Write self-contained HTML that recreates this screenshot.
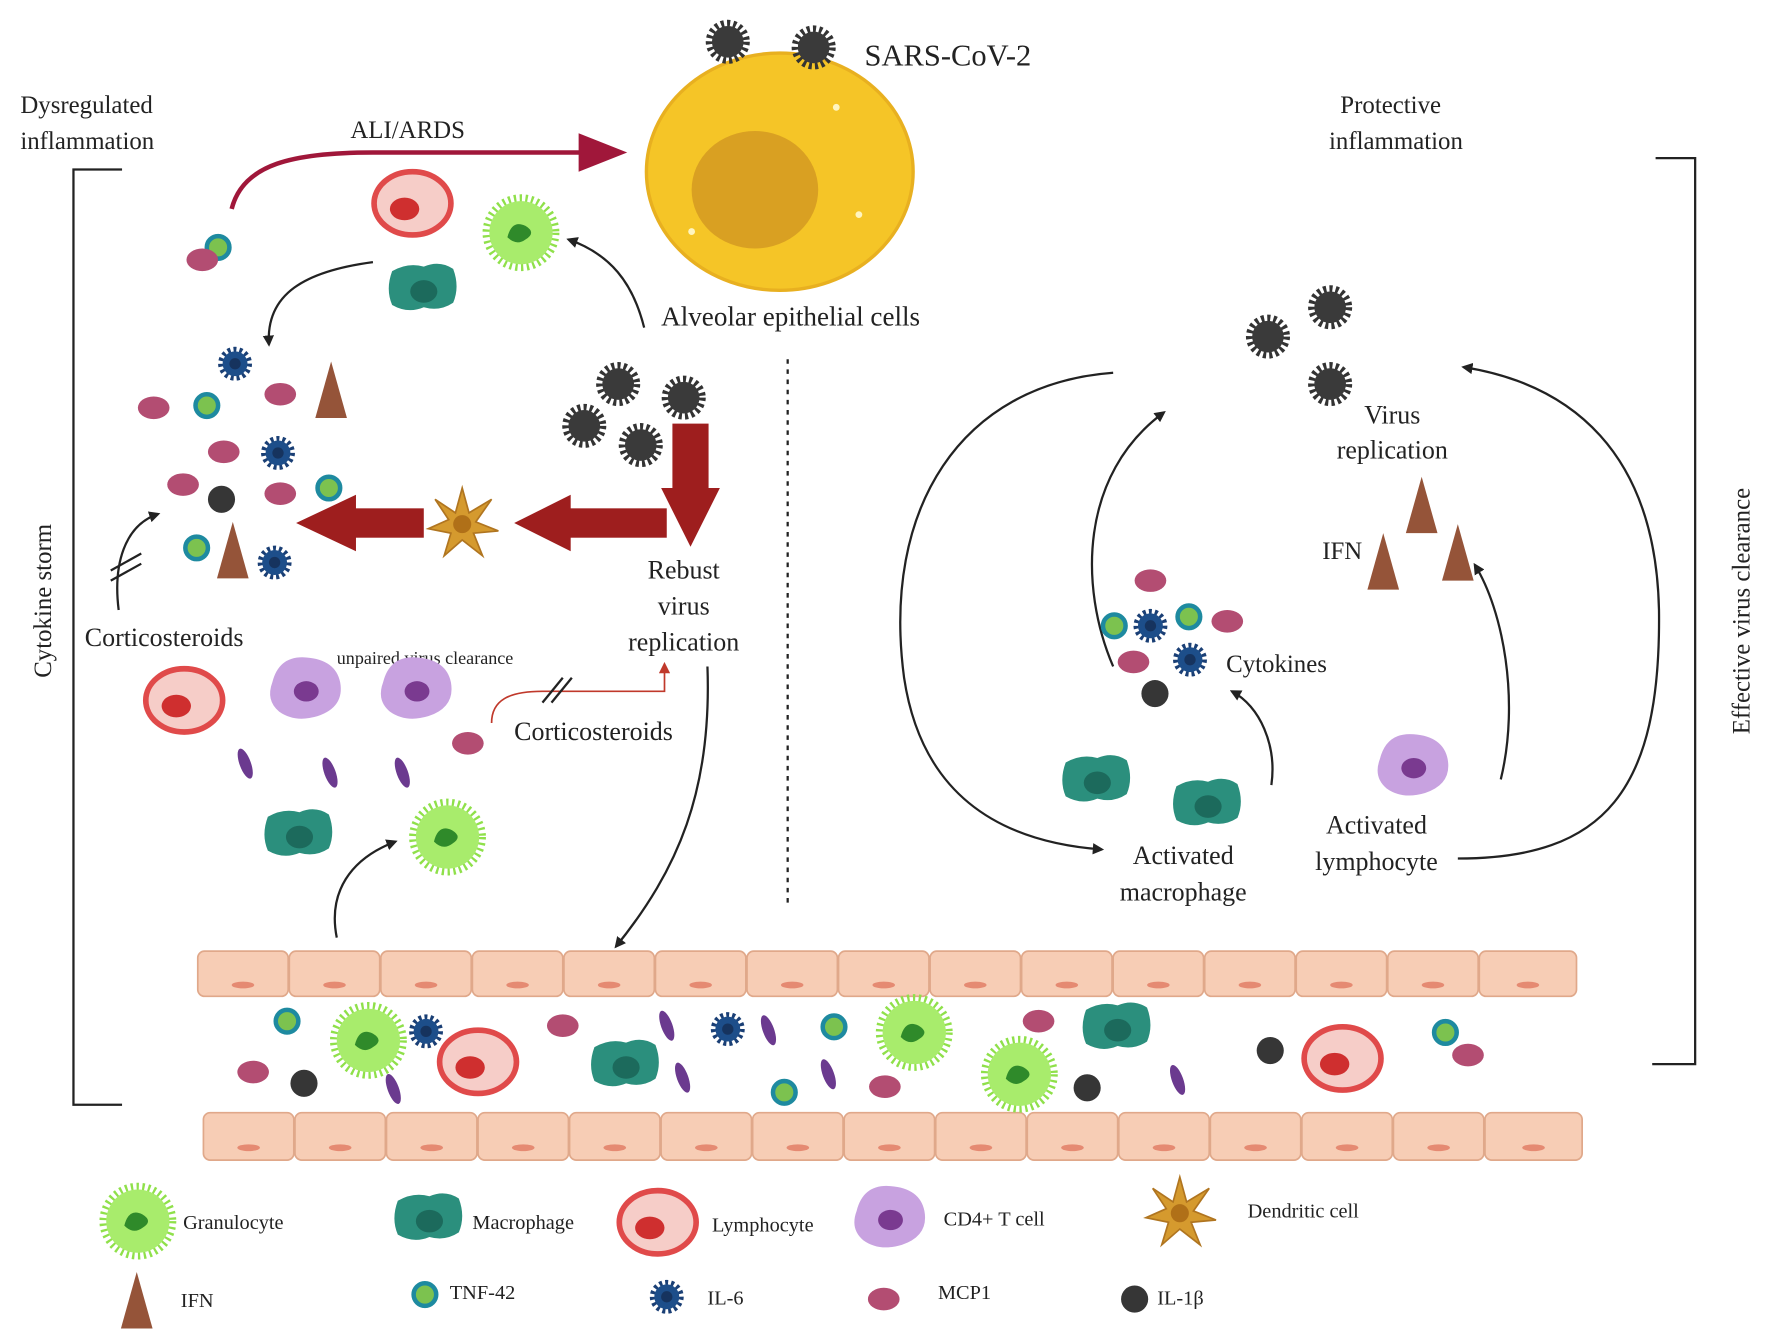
<!DOCTYPE html>
<html><head><meta charset="utf-8"><style>
html,body{margin:0;padding:0;background:#fff}
svg{display:block}
text{font-family:"Liberation Serif",serif;fill:#222}
</style></head><body>
<svg width="1772" height="1342" viewBox="0 0 1568 1188" preserveAspectRatio="none" xmlns="http://www.w3.org/2000/svg">
<defs>
<symbol id="vir" viewBox="-22 -22 44 44" overflow="visible"><circle r="15" fill="none" stroke="#333" stroke-width="9" stroke-dasharray="2.5 2.5"/><circle r="14" fill="#3a3a3a"/></symbol>
<symbol id="il6" viewBox="-16 -16 32 32" overflow="visible"><circle r="12" fill="none" stroke="#1a3f75" stroke-width="6" stroke-dasharray="2.5 2.5"/><circle r="11" fill="#1d4e8a"/><circle r="5" fill="#16335e"/></symbol>
<symbol id="tnf" viewBox="-14 -14 28 28" overflow="visible"><circle r="10" fill="#7cc24f" stroke="#1e8aa0" stroke-width="4"/></symbol>
<symbol id="mcp" viewBox="-16 -12 32 24" overflow="visible"><ellipse rx="14" ry="10" fill="#b34d72"/></symbol>
<symbol id="il1" viewBox="-14 -14 28 28" overflow="visible"><circle r="12" fill="#363636"/></symbol>
<symbol id="ifn" viewBox="-16 -28 32 56" overflow="visible"><polygon points="0,-26 14,24 -14,24" fill="#955439"/></symbol>
<symbol id="rod" viewBox="-6 -16 12 32" overflow="visible"><ellipse rx="5" ry="14" fill="#6b3a8f" transform="rotate(-20)"/></symbol>
<symbol id="gran" viewBox="-36 -36 72 72" overflow="visible"><circle r="30" fill="none" stroke="#8fe04a" stroke-width="8" stroke-dasharray="2 3"/><circle r="28" fill="#a8ec6c"/><path d="M-12,4 q4,-16 16,-10 q10,6 0,12 q-8,6 -16,-2z" fill="#2f8a2a"/></symbol>
<symbol id="mac" viewBox="-34 -28 68 56" overflow="visible"><path d="M-28,-18 q14,-8 28,-4 q14,-6 26,2 q6,16 0,30 q-12,8 -26,4 q-14,6 -28,-2 q-6,-14 0,-30z" fill="#2b8f7d"/><ellipse cx="0" cy="0" rx="12" ry="10" fill="#1c6a5c"/></symbol>
<symbol id="lym" viewBox="-38 -32 76 64" overflow="visible"><ellipse rx="34" ry="28" fill="#f6cdc8" stroke="#e04a4a" stroke-width="5"/><ellipse cx="-7" cy="5" rx="13" ry="10" fill="#cf2f2f"/></symbol>
<symbol id="cd4" viewBox="-36 -32 72 64" overflow="visible"><path d="M-30,-8 q6,-24 30,-22 q26,2 30,22 q4,22 -20,30 q-20,6 -34,-4 q-12,-10 -6,-26z" fill="#c8a2e0"/><ellipse cx="0" cy="0" rx="11" ry="9" fill="#7a3a90"/></symbol>
<symbol id="dc" viewBox="-34 -34 68 68" overflow="visible"><polygon points="0,-32 6,-10 26,-22 12,-2 32,6 10,8 18,28 0,14 -16,28 -10,8 -30,4 -12,-4 -24,-22 -6,-10" fill="#d59a2e" stroke="#b07520" stroke-width="1.5"/><circle r="8" fill="#b07018"/></symbol>
<marker id="ah" markerWidth="10" markerHeight="10" refX="8" refY="5" orient="auto" markerUnits="userSpaceOnUse" viewBox="0 0 10 10"><path d="M0,0 L10,5 L0,10 z" fill="#222"/></marker>
<marker id="ahr" markerWidth="10" markerHeight="10" refX="8" refY="5" orient="auto" markerUnits="userSpaceOnUse" viewBox="0 0 10 10"><path d="M0,0 L10,5 L0,10 z" fill="#c0392b"/></marker>
</defs>

<!-- brackets -->
<path d="M108,150 H65 V978 H108" fill="none" stroke="#222" stroke-width="2"/>
<path d="M1465,140 H1500 V942 H1462" fill="none" stroke="#222" stroke-width="2"/>

<!-- texts -->
<text x="765" y="58" font-size="27">SARS-CoV-2</text>
<text x="18" y="100" font-size="22">Dysregulated</text>
<text x="18" y="132" font-size="22">inflammation</text>
<text x="310" y="122" font-size="22">ALI/ARDS</text>
<text x="1186" y="100" font-size="22">Protective</text>
<text x="1176" y="132" font-size="22">inflammation</text>
<text x="585" y="288" font-size="24">Alveolar epithelial cells</text>
<text transform="translate(45,600) rotate(-90)" font-size="22">Cytokine storm</text>
<text transform="translate(1548,650) rotate(-90)" font-size="22">Effective virus clearance</text>
<text x="605" y="512" font-size="23" text-anchor="middle">Rebust</text>
<text x="605" y="544" font-size="23" text-anchor="middle">virus</text>
<text x="605" y="576" font-size="23" text-anchor="middle">replication</text>
<text x="75" y="572" font-size="23">Corticosteroids</text>
<text x="298" y="588" font-size="16">unpaired virus clearance</text>
<text x="455" y="655" font-size="23">Corticosteroids</text>
<text x="1232" y="375" font-size="23" text-anchor="middle">Virus</text>
<text x="1232" y="406" font-size="23" text-anchor="middle">replication</text>
<text x="1170" y="495" font-size="22">IFN</text>
<text x="1085" y="595" font-size="22">Cytokines</text>
<text x="1047" y="765" font-size="23" text-anchor="middle">Activated</text>
<text x="1047" y="797" font-size="23" text-anchor="middle">macrophage</text>
<text x="1218" y="738" font-size="23" text-anchor="middle">Activated</text>
<text x="1218" y="770" font-size="23" text-anchor="middle">lymphocyte</text>

<!-- alveolar cell -->
<ellipse cx="690" cy="152" rx="118" ry="105" fill="#f5c527" stroke="#e8b020" stroke-width="3"/>
<ellipse cx="668" cy="168" rx="56" ry="52" fill="#d9a022"/>
<circle cx="740" cy="95" r="3" fill="#fff5c0"/><circle cx="760" cy="190" r="3" fill="#fff5c0"/><circle cx="612" cy="205" r="3" fill="#fff5c0"/>

<!-- viruses -->
<use href="#vir" x="622" y="15" width="44" height="44"/>
<use href="#vir" x="698" y="20" width="44" height="44"/>
<use href="#vir" x="525" y="318" width="44" height="44"/>
<use href="#vir" x="583" y="330" width="44" height="44"/>
<use href="#vir" x="495" y="355" width="44" height="44"/>
<use href="#vir" x="545" y="372" width="44" height="44"/>
<use href="#vir" x="1155" y="250" width="44" height="44"/>
<use href="#vir" x="1100" y="276" width="44" height="44"/>
<use href="#vir" x="1155" y="318" width="44" height="44"/>

<!-- dotted line -->
<line x1="697" y1="318" x2="697" y2="800" stroke="#222" stroke-width="2" stroke-dasharray="4 5"/>

<!-- ALI arrow -->
<path d="M205,185 C215,145 260,135 330,135 L515,135" fill="none" stroke="#a0173a" stroke-width="4"/>
<polygon points="512,118 555,135 512,152" fill="#a0173a"/>

<!-- upper-left cluster -->
<use href="#lym" x="327" y="148" width="76" height="64"/>
<use href="#gran" x="425" y="170" width="72" height="72"/>
<use href="#mac" x="341" y="230" width="68" height="56"/>
<use href="#tnf" x="179" y="205" width="28" height="28"/>
<use href="#mcp" x="163" y="218" width="32" height="24"/>
<path d="M330,232 C270,240 235,260 238,305" fill="none" stroke="#222" stroke-width="2" marker-end="url(#ah)"/>
<path d="M570,290 C560,250 540,225 503,212" fill="none" stroke="#222" stroke-width="2" marker-end="url(#ah)"/>

<!-- cytokine storm cluster -->
<use href="#il6" x="192" y="306" width="32" height="32"/>
<use href="#mcp" x="120" y="349" width="32" height="24"/>
<use href="#tnf" x="169" y="345" width="28" height="28"/>
<use href="#mcp" x="232" y="337" width="32" height="24"/>
<use href="#ifn" x="277" y="318" width="32" height="56"/>
<use href="#mcp" x="182" y="388" width="32" height="24"/>
<use href="#il6" x="230" y="385" width="32" height="32"/>
<use href="#mcp" x="146" y="417" width="32" height="24"/>
<use href="#il1" x="182" y="428" width="28" height="28"/>
<use href="#mcp" x="232" y="425" width="32" height="24"/>
<use href="#tnf" x="277" y="418" width="28" height="28"/>
<use href="#tnf" x="160" y="471" width="28" height="28"/>
<use href="#ifn" x="190" y="460" width="32" height="56"/>
<use href="#il6" x="227" y="482" width="32" height="32"/>

<!-- red arrows -->
<rect x="595" y="375" width="32" height="60" fill="#9e1e1e"/>
<polygon points="585,432 637,432 611,484" fill="#9e1e1e"/>
<rect x="500" y="450" width="90" height="26" fill="#9e1e1e"/>
<polygon points="505,438 505,488 455,463" fill="#9e1e1e"/>
<use href="#dc" x="375" y="430" width="68" height="68"/>
<rect x="310" y="450" width="65" height="26" fill="#9e1e1e"/>
<polygon points="315,438 315,488 262,463" fill="#9e1e1e"/>

<!-- corticosteroid arrow -->
<path d="M105,540 C100,500 110,465 140,455" fill="none" stroke="#222" stroke-width="2" marker-end="url(#ah)"/>
<line x1="98" y1="505" x2="125" y2="490" stroke="#222" stroke-width="2"/>
<line x1="98" y1="514" x2="125" y2="499" stroke="#222" stroke-width="2"/>

<!-- lower left cells -->
<use href="#lym" x="125" y="588" width="76" height="64"/>
<use href="#cd4" x="235" y="580" width="72" height="64"/>
<use href="#cd4" x="333" y="580" width="72" height="64"/>
<use href="#mcp" x="398" y="646" width="32" height="24"/>
<use href="#rod" x="211" y="660" width="12" height="32"/>
<use href="#rod" x="286" y="668" width="12" height="32"/>
<use href="#rod" x="350" y="668" width="12" height="32"/>
<path d="M435,640 C435,620 450,612 480,612 L588,612 L588,588" fill="none" stroke="#c0392b" stroke-width="1.5" marker-end="url(#ahr)"/>
<line x1="480" y1="622" x2="498" y2="600" stroke="#222" stroke-width="2"/>
<line x1="488" y1="622" x2="506" y2="600" stroke="#222" stroke-width="2"/>
<use href="#mac" x="231" y="713" width="68" height="56"/>
<use href="#gran" x="360" y="705" width="72" height="72"/>
<path d="M298,830 C290,790 310,760 350,745" fill="none" stroke="#222" stroke-width="2" marker-end="url(#ah)"/>
<path d="M626,590 C630,700 600,770 545,838" fill="none" stroke="#222" stroke-width="2" marker-end="url(#ah)"/>

<!-- right side -->
<path d="M985,330 C850,340 780,450 800,600 C815,700 880,745 975,752" fill="none" stroke="#222" stroke-width="2" marker-end="url(#ah)"/>
<path d="M985,590 C955,520 955,420 1030,365" fill="none" stroke="#222" stroke-width="2" marker-end="url(#ah)"/>
<path d="M1290,760 C1420,760 1470,700 1468,540 C1465,400 1390,340 1295,325" fill="none" stroke="#222" stroke-width="2" marker-end="url(#ah)"/>
<path d="M1125,695 C1130,660 1115,625 1090,612" fill="none" stroke="#222" stroke-width="2" marker-end="url(#ah)"/>
<path d="M1328,690 C1345,620 1330,540 1305,500" fill="none" stroke="#222" stroke-width="2" marker-end="url(#ah)"/>
<use href="#ifn" x="1242" y="420" width="32" height="56"/>
<use href="#ifn" x="1208" y="470" width="32" height="56"/>
<use href="#ifn" x="1274" y="462" width="32" height="56"/>
<use href="#mcp" x="1002" y="502" width="32" height="24"/>
<use href="#tnf" x="972" y="540" width="28" height="28"/>
<use href="#il6" x="1002" y="538" width="32" height="32"/>
<use href="#tnf" x="1038" y="532" width="28" height="28"/>
<use href="#mcp" x="1070" y="538" width="32" height="24"/>
<use href="#mcp" x="987" y="574" width="32" height="24"/>
<use href="#il6" x="1037" y="568" width="32" height="32"/>
<use href="#il1" x="1008" y="600" width="28" height="28"/>
<use href="#mac" x="937" y="665" width="68" height="56"/>
<use href="#mac" x="1035" y="686" width="68" height="56"/>
<use href="#cd4" x="1215" y="648" width="72" height="64"/>

<!-- vessel -->
<g fill="#f7cdb5" stroke="#e0a88a" stroke-width="1.5">
<rect x="175" y="842" width="80" height="40" rx="6"/><rect x="256" y="842" width="80" height="40" rx="6"/><rect x="337" y="842" width="80" height="40" rx="6"/><rect x="418" y="842" width="80" height="40" rx="6"/><rect x="499" y="842" width="80" height="40" rx="6"/><rect x="580" y="842" width="80" height="40" rx="6"/><rect x="661" y="842" width="80" height="40" rx="6"/><rect x="742" y="842" width="80" height="40" rx="6"/><rect x="823" y="842" width="80" height="40" rx="6"/><rect x="904" y="842" width="80" height="40" rx="6"/><rect x="985" y="842" width="80" height="40" rx="6"/><rect x="1066" y="842" width="80" height="40" rx="6"/><rect x="1147" y="842" width="80" height="40" rx="6"/><rect x="1228" y="842" width="80" height="40" rx="6"/><rect x="1309" y="842" width="86" height="40" rx="6"/>
<rect x="180" y="985" width="80" height="42" rx="6"/><rect x="261" y="985" width="80" height="42" rx="6"/><rect x="342" y="985" width="80" height="42" rx="6"/><rect x="423" y="985" width="80" height="42" rx="6"/><rect x="504" y="985" width="80" height="42" rx="6"/><rect x="585" y="985" width="80" height="42" rx="6"/><rect x="666" y="985" width="80" height="42" rx="6"/><rect x="747" y="985" width="80" height="42" rx="6"/><rect x="828" y="985" width="80" height="42" rx="6"/><rect x="909" y="985" width="80" height="42" rx="6"/><rect x="990" y="985" width="80" height="42" rx="6"/><rect x="1071" y="985" width="80" height="42" rx="6"/><rect x="1152" y="985" width="80" height="42" rx="6"/><rect x="1233" y="985" width="80" height="42" rx="6"/><rect x="1314" y="985" width="86" height="42" rx="6"/>
</g>
<g fill="#e58a72">
<ellipse cx="215" cy="872" rx="10" ry="3"/><ellipse cx="296" cy="872" rx="10" ry="3"/><ellipse cx="377" cy="872" rx="10" ry="3"/><ellipse cx="458" cy="872" rx="10" ry="3"/><ellipse cx="539" cy="872" rx="10" ry="3"/><ellipse cx="620" cy="872" rx="10" ry="3"/><ellipse cx="701" cy="872" rx="10" ry="3"/><ellipse cx="782" cy="872" rx="10" ry="3"/><ellipse cx="863" cy="872" rx="10" ry="3"/><ellipse cx="944" cy="872" rx="10" ry="3"/><ellipse cx="1025" cy="872" rx="10" ry="3"/><ellipse cx="1106" cy="872" rx="10" ry="3"/><ellipse cx="1187" cy="872" rx="10" ry="3"/><ellipse cx="1268" cy="872" rx="10" ry="3"/><ellipse cx="1352" cy="872" rx="10" ry="3"/>
<ellipse cx="220" cy="1016" rx="10" ry="3"/><ellipse cx="301" cy="1016" rx="10" ry="3"/><ellipse cx="382" cy="1016" rx="10" ry="3"/><ellipse cx="463" cy="1016" rx="10" ry="3"/><ellipse cx="544" cy="1016" rx="10" ry="3"/><ellipse cx="625" cy="1016" rx="10" ry="3"/><ellipse cx="706" cy="1016" rx="10" ry="3"/><ellipse cx="787" cy="1016" rx="10" ry="3"/><ellipse cx="868" cy="1016" rx="10" ry="3"/><ellipse cx="949" cy="1016" rx="10" ry="3"/><ellipse cx="1030" cy="1016" rx="10" ry="3"/><ellipse cx="1111" cy="1016" rx="10" ry="3"/><ellipse cx="1192" cy="1016" rx="10" ry="3"/><ellipse cx="1273" cy="1016" rx="10" ry="3"/><ellipse cx="1357" cy="1016" rx="10" ry="3"/>
</g>

<!-- blood contents -->
<use href="#tnf" x="240" y="890" width="28" height="28"/>
<use href="#gran" x="290" y="885" width="72" height="72"/>
<use href="#il6" x="361" y="897" width="32" height="32"/>
<use href="#mcp" x="208" y="937" width="32" height="24"/>
<use href="#il1" x="255" y="945" width="28" height="28"/>
<use href="#rod" x="342" y="948" width="12" height="32"/>
<use href="#lym" x="385" y="908" width="76" height="64"/>
<use href="#mcp" x="482" y="896" width="32" height="24"/>
<use href="#mac" x="520" y="917" width="68" height="56"/>
<use href="#rod" x="584" y="892" width="12" height="32"/>
<use href="#rod" x="598" y="938" width="12" height="32"/>
<use href="#il6" x="628" y="895" width="32" height="32"/>
<use href="#rod" x="674" y="896" width="12" height="32"/>
<use href="#rod" x="727" y="935" width="12" height="32"/>
<use href="#tnf" x="680" y="953" width="28" height="28"/>
<use href="#tnf" x="724" y="895" width="28" height="28"/>
<use href="#gran" x="773" y="878" width="72" height="72"/>
<use href="#mcp" x="767" y="950" width="32" height="24"/>
<use href="#mcp" x="903" y="892" width="32" height="24"/>
<use href="#gran" x="866" y="915" width="72" height="72"/>
<use href="#mac" x="955" y="884" width="68" height="56"/>
<use href="#il1" x="948" y="949" width="28" height="28"/>
<use href="#rod" x="1036" y="940" width="12" height="32"/>
<use href="#il1" x="1110" y="916" width="28" height="28"/>
<use href="#lym" x="1150" y="905" width="76" height="64"/>
<use href="#tnf" x="1265" y="900" width="28" height="28"/>
<use href="#mcp" x="1283" y="922" width="32" height="24"/>

<!-- legend -->
<use href="#gran" x="86" y="1045" width="72" height="72"/>
<text x="162" y="1088" font-size="18">Granulocyte</text>
<use href="#mac" x="346" y="1053" width="68" height="56"/>
<text x="418" y="1088" font-size="18">Macrophage</text>
<use href="#lym" x="544" y="1050" width="76" height="64"/>
<text x="630" y="1090" font-size="18">Lymphocyte</text>
<use href="#cd4" x="752" y="1048" width="72" height="64"/>
<text x="835" y="1085" font-size="18">CD4+ T cell</text>
<use href="#dc" x="1010" y="1040" width="68" height="68"/>
<text x="1104" y="1078" font-size="18">Dendritic cell</text>
<use href="#ifn" x="105" y="1124" width="32" height="56"/>
<text x="160" y="1157" font-size="18">IFN</text>
<use href="#tnf" x="362" y="1132" width="28" height="28"/>
<text x="398" y="1150" font-size="18">TNF-42</text>
<use href="#il6" x="574" y="1132" width="32" height="32"/>
<text x="626" y="1155" font-size="18">IL-6</text>
<use href="#mcp" x="766" y="1138" width="32" height="24"/>
<text x="830" y="1150" font-size="18">MCP1</text>
<use href="#il1" x="990" y="1136" width="28" height="28"/>
<text x="1024" y="1155" font-size="18">IL-1β</text>
</svg>
</body></html>
